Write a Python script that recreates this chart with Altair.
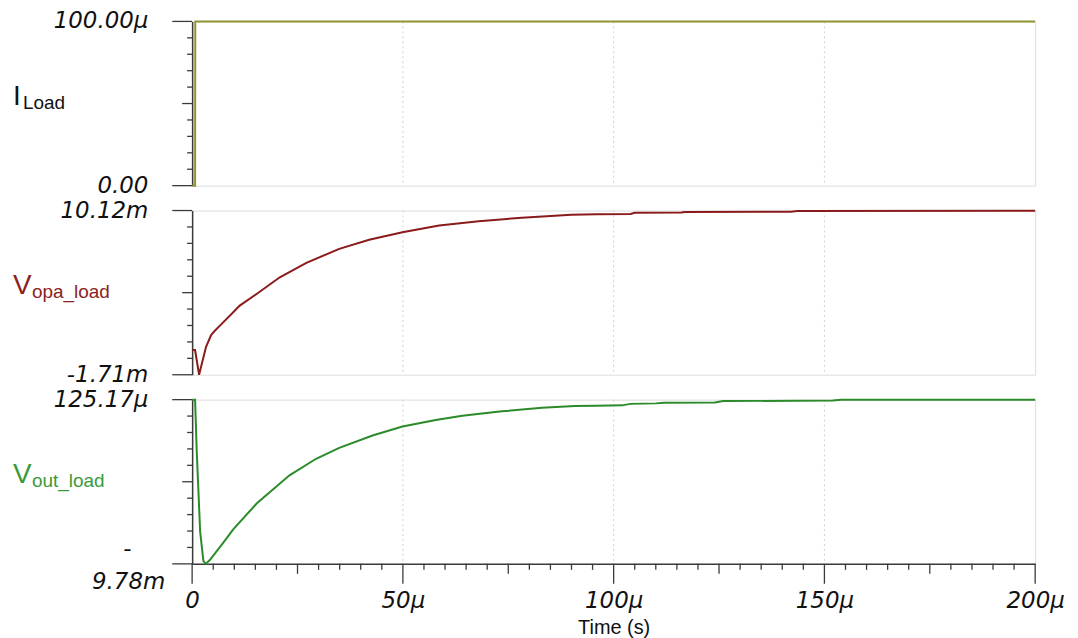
import altair as alt
import pandas as pd

# ---------------- data (time in µs) ----------------
t_iload = [0, 0.7, 0.75, 200]
i_load = [0, 0, 100, 100]            # µA

t_opa = [0, 0.7, 1.65, 3.3, 4.5, 5.5, 6.6, 9.75, 11.3, 15.3, 20.8, 27.1, 34.9,
         42.0, 49.9, 58.6, 68.0, 78.2, 90.0, 96, 104, 105, 116, 117, 142, 143.6, 200]
v_opa = [0.07, 0.07, -1.71, 0.3, 1.15, 1.5, 1.83, 2.79, 3.27, 4.11, 5.31, 6.35, 7.36,
         8.01, 8.56, 9.04, 9.35, 9.60, 9.81, 9.85, 9.87, 9.96, 9.98, 10.02, 10.04, 10.09, 10.10]  # mV

t_out = [0, 0.7, 1.1, 1.9, 2.67, 3.2, 4.2, 7.4, 9.75, 15.3, 23.1, 29.4, 34.9, 42.8,
         49.9, 57.8, 64.1, 73.5, 83.0, 90.8, 96, 102, 104, 110, 112, 124, 126, 152, 154, 200]
v_out = [0.125, 0.125, -3.04, -7.84, -9.6, -9.78, -9.55, -8.5, -7.7, -6.14, -4.44, -3.44,
         -2.78, -2.04, -1.50, -1.10, -0.84, -0.58, -0.37, -0.26, -0.24, -0.22, -0.13, -0.10,
         -0.06, -0.04, 0.04, 0.07, 0.115, 0.125]  # mV

dom_i = [0, 100]
dom_opa = [-1.71, 10.12]
dom_out = [-9.78, 0.12517]

lab_i_vals = [0, 100]
lab_i_text = ["0.00", "100.00µ"]
lab_opa_vals = [-1.71, 10.12]
lab_opa_text = ["-1.71m", "10.12m"]
lab_out_vals = [0.12517]
lab_out_text = ["125.17µ"]
lab_out_low_val = [-9.78]
lab_out_low_sign = ["-"]
lab_out_low_text = ["9.78m"]

x_ticks_major = [0, 50, 100, 150, 200]
x_ticks_mid = [25, 75, 125, 175]
x_ticks_minor = [5, 10, 15, 20, 30, 35, 40, 45, 55, 60, 65, 70, 80, 85, 90, 95,
                 105, 110, 115, 120, 130, 135, 140, 145, 155, 160, 165, 170,
                 180, 185, 190, 195]
grid_t = [50, 100, 150]

W, H = 847, 165
FONT = "Liberation Sans"
TFONT = "DejaVu Sans"
TSIZE = 23
AX = "#3a3a3a"

x_scale = alt.Scale(domain=[0, 200], nice=False, zero=False)


def y_ticks(domain):
    lo, hi = domain
    step = (hi - lo) / 10.0
    vals = [lo + k * step for k in range(11)]
    return [vals[0], vals[10]], [vals[5]], [v for k, v in enumerate(vals) if k not in (0, 5, 10)]


def panel(t, v, color, domain, lab_vals, lab_text, main, sub, sub_dx, tcolor, bottom=False):
    ysc = alt.Scale(domain=domain, nice=False, zero=False)
    yax = alt.Axis(title=None, labels=False, ticks=False, grid=False,
                   domainColor=AX, domainWidth=1.5)
    if bottom:
        xax = alt.Axis(values=x_ticks_major, labelExpr="datum.value == 0 ? '0' : datum.value + 'µ'",
                       ticks=False, grid=False, domainColor=AX, domainWidth=1.5,
                       labelFont=TFONT, labelFontSize=TSIZE, labelFontStyle="italic",
                       labelColor="#111111", labelPadding=26, labelFlush=False,
                       title="Time (s)", titleFont=FONT, titleFontSize=20,
                       titleFontWeight="normal", titleColor="#111111", titlePadding=5)
    else:
        xax = alt.Axis(labels=False, ticks=False, grid=False, domain=False, title=None)

    X = lambda f: alt.X(f, type="quantitative", scale=x_scale, axis=xax)
    Y = lambda f: alt.Y(f, type="quantitative", scale=ysc, axis=yax)

    layers = []
    layers.append(alt.Chart(pd.DataFrame({"g": grid_t})).mark_rule(
        color="#d0d0d0", strokeDash=[2, 3], strokeWidth=1).encode(x=X("g")))
    layers.append(alt.Chart(pd.DataFrame({"t": t, "v": v})).mark_line(
        color=color, strokeWidth=2, clip=False).encode(x=X("t"), y=Y("v")))

    major, mid, minor = y_ticks(domain)
    for vals, ln in ((major, 20), (mid, 10), (minor, 5)):
        layers.append(alt.Chart(pd.DataFrame({"yt": vals})).mark_rule(
            color=AX, strokeWidth=1.3).encode(y=Y("yt"), x=alt.value(-ln), x2=alt.value(0)))

    layers.append(alt.Chart(pd.DataFrame({"lv": lab_vals, "lt": lab_text})).mark_text(
        align="right", baseline="middle", font=TFONT, fontSize=TSIZE, fontStyle="italic",
        color="#111111").encode(x=alt.value(-44), y=Y("lv"), text="lt:N"))

    layers.append(alt.Chart(pd.DataFrame({"m": [main]})).mark_text(
        align="left", baseline="alphabetic", font=FONT, fontSize=28, color=tcolor).encode(
        x=alt.value(-180), y=alt.value(84), text="m:N"))
    layers.append(alt.Chart(pd.DataFrame({"s": [sub]})).mark_text(
        align="left", baseline="alphabetic", font=FONT, fontSize=19, color=tcolor).encode(
        x=alt.value(-180 + sub_dx), y=alt.value(88), text="s:N"))

    if bottom:
        for vals, ln in ((x_ticks_major, 20), (x_ticks_mid, 10), (x_ticks_minor, 6)):
            layers.append(alt.Chart(pd.DataFrame({"xt": vals})).mark_rule(
                color=AX, strokeWidth=1.3).encode(x=X("xt"), y=alt.value(H), y2=alt.value(H + ln)))
        layers.append(alt.Chart(pd.DataFrame({"lv": lab_out_low_val, "lt": lab_out_low_sign})).mark_text(
            align="center", baseline="middle", font=TFONT, fontSize=TSIZE, fontStyle="italic",
            color="#111111", dy=-15).encode(x=alt.value(-65), y=Y("lv"), text="lt:N"))
        layers.append(alt.Chart(pd.DataFrame({"lv": lab_out_low_val, "lt": lab_out_low_text})).mark_text(
            align="right", baseline="middle", font=TFONT, fontSize=TSIZE, fontStyle="italic",
            color="#111111", dy=18).encode(x=alt.value(-27), y=Y("lv"), text="lt:N"))

    return alt.layer(*layers).properties(width=W, height=H)


p1 = panel(t_iload, i_load, "#939333", dom_i, lab_i_vals, lab_i_text, "I", "Load", 10, "#111111")
p2 = panel(t_opa, v_opa, "#8b1a1a", dom_opa, lab_opa_vals, lab_opa_text, "V", "opa_load", 19, "#8b2222")
p3 = panel(t_out, v_out, "#2b8b2b", dom_out, lab_out_vals, lab_out_text, "V", "out_load", 19, "#3a9a3a",
           bottom=True)

chart = alt.vconcat(p1, p2, p3, spacing=25, bounds="flush").properties(
    padding={"left": 4, "top": 0, "right": 5, "bottom": 0}
).configure_view(stroke="#c8c8c8", strokeWidth=1.2).configure(background="white")

chart.save("out.html", embed_options={"renderer": "svg", "actions": False})
